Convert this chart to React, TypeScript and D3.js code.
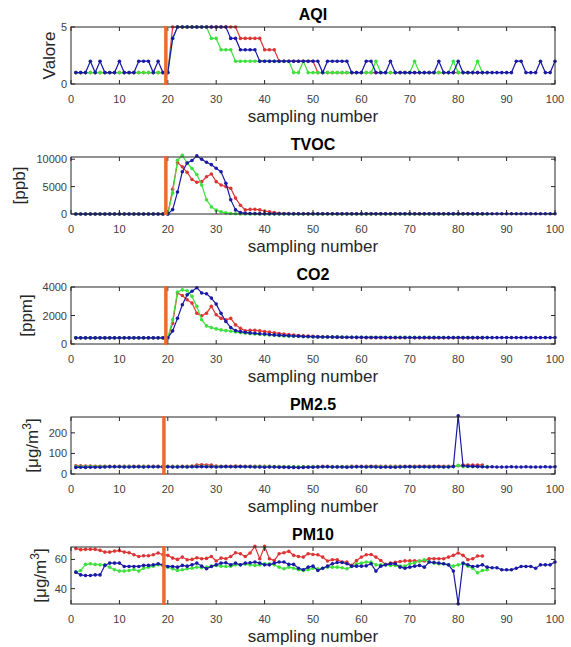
import React from "react";
import * as d3 from "d3";

// ---------- data ----------
const xTicks = [0, 10, 20, 30, 40, 50, 60, 70, 80, 90, 100];
const titles = ["AQI", "TVOC", "CO2", "PM2.5", "PM10"];
const eventX = [19.6, 19.6, 19.6, 19.2, 19.2];

const aqiBlue = [
  1,1,1,2,1,2,1,1,1,2, 1,1,1,2,2,2,1,2,1,1, 4,5,5,5,5,5,5,5,5,5, 5,5,4,4,3,3,3,3,2,2,
  2,2,2,2,2,2,2,2,2,2, 2,1,2,2,2,2,2,1,1,1, 2,2,1,1,1,2,1,1,1,1, 1,1,1,1,1,2,1,1,1,2,
  1,1,1,1,1,1,1,1,1,1, 1,2,2,1,1,1,2,1,1,2];
const aqiGreen = [
  1,1,1,1,1,1,1,1,1,1, 1,1,1,1,1,1,1,1,1,1, 4,5,5,5,5,5,5,5,4,4, 3,3,3,2,2,2,2,2,2,2,
  2,2,2,2,2,1,1,2,1,1, 1,1,1,1,1,1,1,1,1,1, 1,1,2,1,1,1,1,1,1,1, 2,1,1,1,1,1,1,1,2,1,
  1,1,1,2,1,1];
const aqiRed = [
  1,1,1,1,1,1,1,1,1,1, 1,1,1,1,1,1,1,1,1,1, 5,5,5,5,5,5,5,5,5,5, 5,5,5,5,4,4,4,4,4,3,
  3,3,2,2,2,2,2,2,2,2, 1,1,1,1,1,1,1,1,1,1, 1,1,1,1,1,1,1,1,1,1, 1,1,1,1,1,1,1,1,1,1,
  1,1,1,1,1];

const tvocBlue = [
  0,0,0,0,0,0,0,0,0,0, 0,0,0,0,0,0,0,0,0,0,
  800,4000,7700,9300,9750,10600,10000,9450,9000,8350,
  7700,5600,2600,750,250,150,100,80,60,50,
  50,50,50,50,50,50,50,50,50,50, 50,50,50,50,50,50,50,50,50,50,
  50,50,50,50,50,50,50,50,50,50, 50,50,50,50,50,50,50,50,50,50,
  50,50,50,50,50,50,50,50,50,50, 50,50,50,50,50,50,50,50,50,50];
const tvocRed = [
  0,0,0,0,0,0,0,0,0,0, 0,0,0,0,0,0,0,0,0,0,
  4500,9400,8600,7600,6300,5800,5900,6800,7300,5900,
  5300,5000,4700,2900,1600,750,850,850,750,550,
  380,250,150,100,60,50,40,40,30,30,
  30,30,30,30,30,30,30,30,30,30, 30,30,30,30,30,30,30,30,30,30,
  30,30,30,30,30,30,30,30,30,30, 30,30,30,30,30];
const tvocGreen = [
  0,0,0,0,0,0,0,0,0,0, 0,0,0,0,0,0,0,0,0,0,
  3800,9800,10700,9300,8300,7200,5300,2600,1300,700,
  400,200,100,50,20,10,10,0,0,0,
  0,0,0,0,0,0,0,0,0,0, 0,0,0,0,0,0,0,0,0,0, 0,0,0,0,0,0,0,0,0,0,
  0,0,0,0,0,0,0,0,0,0, 0,0,0,0,0,0];

const co2Blue = [
  430,430,430,430,430,430,430,430,430,430, 430,430,430,430,430,430,430,430,430,430,
  920,1800,2750,3450,3700,3950,3580,3530,3220,2800,
  2150,1580,1150,940,870,820,780,750,720,700,
  670,640,620,600,580,560,550,530,520,510,
  500,495,490,485,480,475,470,470,465,465,
  460,460,460,458,458,456,456,455,455,455, 454,454,453,453,452,452,452,451,451,451,
  450,450,450,450,450,450,450,450,450,450, 450,450,450,450,450,450,450,450,450,450];
const co2Red = [
  430,430,430,430,430,430,430,430,430,430, 430,430,430,430,430,430,430,430,430,430,
  1450,3580,3400,3100,2870,2160,1980,2160,2640,2050,
  1800,1700,1800,1340,1100,920,960,960,920,870,
  830,790,740,700,660,630,600,580,560,540,
  520,510,500,490,480,470,460,455,450,445,
  440,440,438,438,436,436,435,435,434,434, 433,433,432,432,432,431,431,431,430,430,
  430,430,430,430,430];
const co2Green = [
  430,430,430,430,430,430,430,430,430,430, 430,430,430,430,430,430,430,430,430,430,
  1700,3650,3800,3740,3340,2640,1700,1270,1150,1060,
  990,940,900,850,800,760,730,700,680,650,
  630,610,590,570,550,540,530,520,510,500,
  490,488,486,484,482,480,478,476,474,472,
  470,470,468,468,466,466,465,465,464,464, 463,463,462,462,462,461,461,461,460,460,
  460,460,460,460,460,460];

const pm25Blue = [
  32,33,32,33,33,33,34,35,35,35, 34,34,35,35,34,35,35,35,34,35,
  34,34,35,34,35,35,36,35,35,34, 35,36,35,35,36,35,35,34,34,33,
  34,34,33,33,32,32,31,32,33,33, 34,35,35,34,34,34,33,34,35,35,
  34,35,34,33,34,33,33,34,35,35, 34,35,35,34,35,35,34,34,36,283,
  40,38,37,36,35,34,35,34,34,34, 35,34,34,35,34,34,34,35,34,35];
const pm25Red = [
  40,40,39,39,38,38,38,37,37,37, 37,37,37,37,37,37,37,37,37,37,
  37,37,37,38,39,44,45,44,43,39, 38,38,38,39,38,38,37,37,37,37,
  37,36,36,36,35,35,34,35,35,36, 36,37,37,36,36,36,36,37,37,37,
  37,38,38,37,37,37,37,37,37,38, 38,38,38,38,38,38,38,38,38,40,
  43,43,43,43,44];
const pm25Green = [
  36,36,36,36,36,36,36,36,36,36, 36,36,36,36,36,36,36,36,36,36,
  36,36,36,36,36,37,37,37,36,36, 36,36,36,36,36,36,36,36,36,36,
  36,35,35,35,35,35,35,35,35,35, 35,35,35,35,35,35,35,35,35,35,
  35,35,35,35,35,35,35,35,35,35, 35,35,35,35,35,35,35,36,36,42,
  36,36,36,36,36,36];

const pm10Red = [
  67.4,66.7,66.9,66.9,66.9,66.2,65.0,65.0,65.7,66.0,
  65.0,64.6,63.2,62.0,62.5,62.5,63.2,64.4,63.2,62.8,
  60.9,60.0,61.6,59.8,60.0,61.1,60.5,60.7,62.0,58.9,
  60.9,60.5,62.0,64.6,63.9,62.0,64.4,68.9,60.5,68.9,
  60.5,59.3,63.9,64.6,65.5,62.8,62.0,61.6,63.9,63.4,
  63.2,61.6,58.9,59.8,59.8,58.2,58.2,55.9,59.3,61.6,
  63.2,63.4,61.6,59.3,56.6,57.5,58.0,58.6,59.0,59.0,
  59.0,58.9,58.9,60.5,60.5,60.5,60.5,61.6,62.8,64.4,
  62.8,59.8,60.5,62.3,62.3];
const pm10Blue = [
  51.3,49.4,49.0,49.0,49.4,49.4,55.9,57.5,57.5,57.5,
  55.2,55.2,55.2,55.2,55.9,55.9,56.3,57.0,56.3,55.2,
  55.2,54.7,55.9,55.4,56.3,57.5,55.4,53.6,55.2,56.3,
  57.5,57.7,56.3,57.5,56.3,57.5,57.7,58.2,57.5,56.3,
  56.3,57.5,58.2,58.2,56.6,56.6,54.0,52.9,54.7,55.4,
  52.4,54.0,55.4,57.0,57.9,57.9,57.0,55.4,55.4,55.4,
  55.6,57.0,52.0,55.4,56.3,57.0,57.0,54.7,54.0,54.7,
  55.4,55.9,54.7,58.2,57.9,57.5,57.0,56.3,52.0,29.6,
  57.5,56.3,55.2,55.4,56.3,54.7,54.3,54.3,52.9,52.9,
  52.9,54.0,55.2,55.2,55.2,54.0,56.3,56.3,56.3,58.2];
const pm10Green = [
  51.3,52.4,56.6,57.0,56.6,56.3,56.3,54.7,52.9,52.0,
  52.0,52.4,53.1,52.0,54.0,54.7,55.4,56.3,55.9,54.7,
  53.6,52.4,52.9,53.6,54.0,54.7,54.3,54.7,55.4,55.9,
  55.4,55.2,55.4,56.3,56.3,56.8,56.3,55.9,56.3,57.0,
  57.0,56.3,54.7,53.6,54.7,54.0,52.9,52.4,52.9,54.0,
  53.6,54.0,54.7,54.7,54.7,54.3,53.6,55.2,57.0,57.5,
  58.2,58.2,56.3,56.3,56.3,55.9,55.9,55.4,55.4,57.0,
  57.7,58.9,59.8,58.2,57.5,57.0,57.0,56.3,55.4,56.3,
  57.0,55.4,54.0,50.8,52.4,52.9];

const yDomains: [number, number][] = [[0, 5], [0, 10400], [0, 4000], [0, 277], [29.5, 68.5]];
const yTicks = [[0, 5], [0, 5000, 10000], [0, 2000, 4000], [0, 100, 200], [40, 60]];
const yLabels = ["Valore", "[ppb]", "[ppm]", "[μg/m", "[μg/m"];
const seriesColors = ["#dd3535", "#3ee03e", "#1a1aa6"];

// ---------- layout ----------
const W = 571, H = 647;
const X0 = 71, X1 = 555;
const TOP0 = 27, STEP = 130, PH = 57;
const yLabelX = [55, 25, 31.5, 38, 46];
const FONT = "'Liberation Sans', Arial, Helvetica, sans-serif";

const panelData = [
  [aqiRed, aqiGreen, aqiBlue],
  [tvocRed, tvocGreen, tvocBlue],
  [co2Red, co2Green, co2Blue],
  [pm25Red, pm25Green, pm25Blue],
  [pm10Red, pm10Green, pm10Blue],
];

function Panel({ i }: { i: number }) {
  const top = TOP0 + i * STEP;
  const bottom = top + PH;
  const x = d3.scaleLinear().domain([0, 100]).range([X0, X1]);
  const y = d3.scaleLinear().domain(yDomains[i]).range([bottom, top]);
  const line = d3.line<number>().x((_, k) => x(k + 1)).y((d) => y(d));
  const yc = (top + bottom) / 2;
  const sup = i >= 3;
  return (
    <g>
      <text x={(X0 + X1) / 2} y={top - 7} textAnchor="middle" fontSize={16} fontWeight="bold" fill="#000" fontFamily={FONT}>
        {titles[i]}
      </text>
      {panelData[i].map((s, si) => (
        <g key={si}>
          <path d={line(s) || ""} fill="none" stroke={seriesColors[si]} strokeWidth={1.2} />
          {s.map((v, k) => (
            <circle key={k} cx={x(k + 1)} cy={y(v)} r={1.8} fill={seriesColors[si]} />
          ))}
        </g>
      ))}
      <rect x={X0} y={top} width={X1 - X0} height={PH} fill="none" stroke="#262626" strokeWidth={1} />
      {xTicks.map((t) => (
        <g key={t}>
          <line x1={x(t)} x2={x(t)} y1={bottom} y2={bottom - 4} stroke="#262626" />
          <line x1={x(t)} x2={x(t)} y1={top} y2={top + 4} stroke="#262626" />
          <text x={x(t)} y={bottom + 19} textAnchor="middle" fontSize={11} fill="#404040" fontFamily={FONT}>
            {t}
          </text>
        </g>
      ))}
      {yTicks[i].map((t) => (
        <g key={t}>
          <line x1={X0} x2={X0 + 4} y1={y(t)} y2={y(t)} stroke="#262626" />
          <line x1={X1} x2={X1 - 4} y1={y(t)} y2={y(t)} stroke="#262626" />
          <text x={67} y={y(t) + 4} textAnchor="end" fontSize={11} fill="#404040" fontFamily={FONT}>
            {t}
          </text>
        </g>
      ))}
      <text x={(X0 + X1) / 2} y={bottom + 38} textAnchor="middle" fontSize={17} fill="#262626" fontFamily={FONT}>
        sampling number
      </text>
      <text
        transform={`translate(${yLabelX[i]},${yc}) rotate(-90)`}
        textAnchor="middle"
        fontSize={17}
        fill="#262626"
        fontFamily={FONT}
      >
        {yLabels[i]}
        {sup && (
          <>
            <tspan dy={-7} fontSize={12}>3</tspan>
            <tspan dy={7}>]</tspan>
          </>
        )}
      </text>
      <line x1={x(eventX[i])} x2={x(eventX[i])} y1={top - 1} y2={bottom + 1} stroke="#ee6a2c" strokeWidth={3.5} />
    </g>
  );
}

export default function App() {
  return (
    <svg width={W} height={H} style={{ position: "absolute", left: 0, top: 0, background: "#fff" }}>
      <rect width={W} height={H} fill="#fff" />
      {titles.map((_, i) => (
        <Panel key={i} i={i} />
      ))}
    </svg>
  );
}
